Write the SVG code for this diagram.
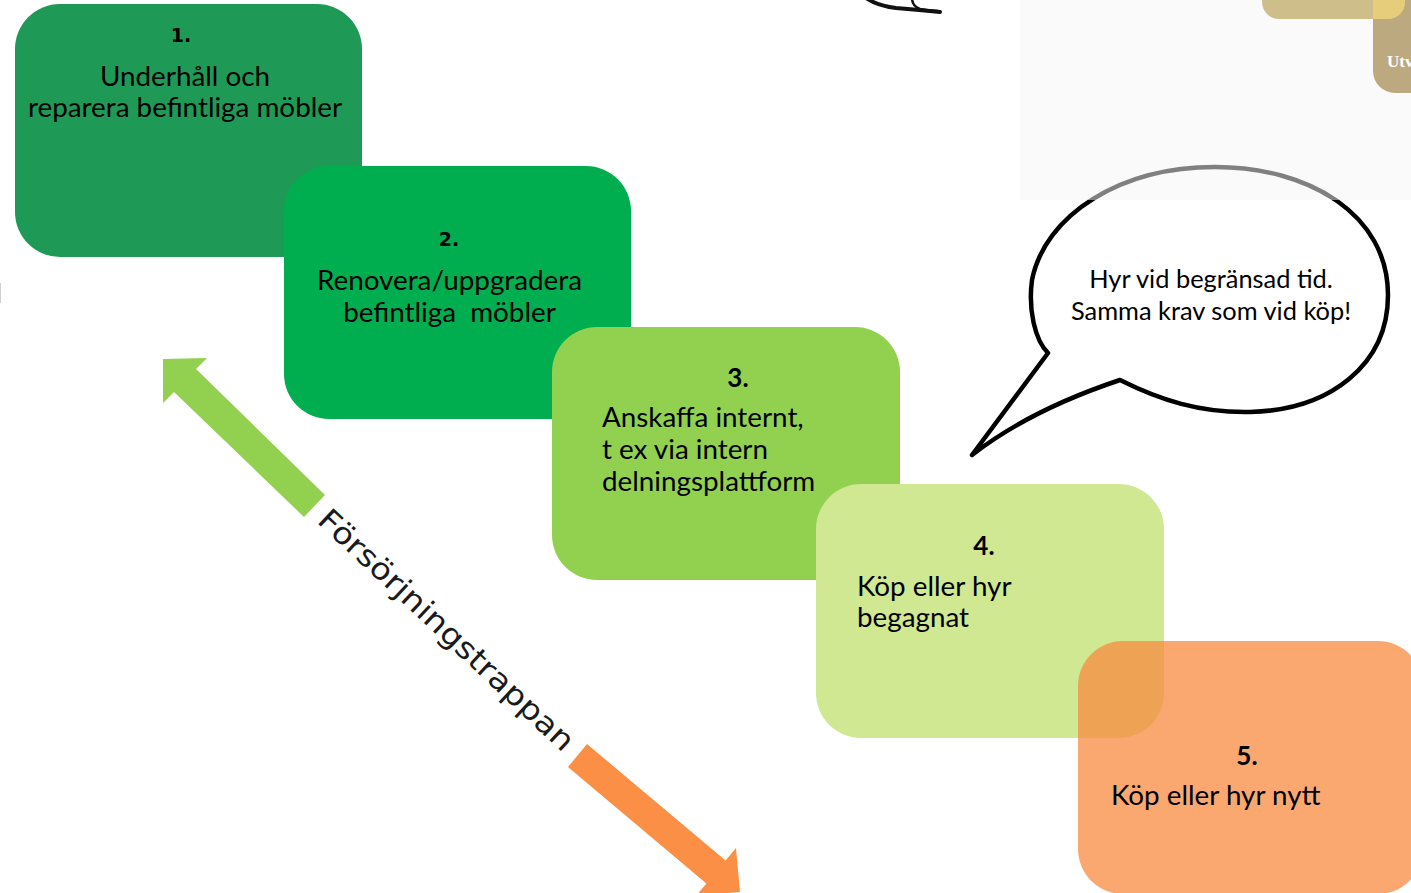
<svg xmlns="http://www.w3.org/2000/svg" width="1411" height="893" viewBox="0 0 1411 893">
<style>
.lbl{font-family:Lato,"Open Sans","Liberation Sans",sans-serif;font-size:27.8px;fill:#000}
.num{font-family:"DejaVu Sans","Liberation Sans",sans-serif;font-weight:bold;font-size:19px;fill:#000}
.num2{font-family:Lato,"Liberation Sans",sans-serif;font-weight:bold;font-size:26px;fill:#000}
.bub{font-family:Lato,"Open Sans","Liberation Sans",sans-serif;font-size:25.4px;fill:#000}
.ax{font-family:"DejaVu Sans","Liberation Sans",sans-serif;font-size:30px;fill:#1a1a1a}
</style>
<defs>
<clipPath id="topclip"><rect x="1020" y="0" width="391" height="200"/></clipPath>
<path id="bubblePath" d="M1048 353 L972 455 Q1030 410 1120 380 C1160 400 1200 413 1250 412 C1330 410 1388 365 1388 295 C1388 215 1310 167 1215 167 C1120 167 1045 215 1032 280 C1028 310 1035 340 1048 353 Z"/>
</defs>
<rect width="1411" height="893" fill="#fff"/>

<!-- scribble at top -->
<g id="scribble" fill="none" stroke="#111" stroke-linecap="round">
<path d="M866 -2 Q878 6 896 8 Q920 10 940 12" stroke-width="4"/>
<path d="M912 -2 Q912 6 920 9 Q930 11 938 11" stroke-width="2.5"/>
</g>
<line x1="0.5" y1="283" x2="0.5" y2="303" stroke="#d0d0d0" stroke-width="1"/>

<!-- speech bubble -->
<g id="bubble">
<use href="#bubblePath" fill="#fff" stroke="#000" stroke-width="4.5" stroke-linejoin="round"/>
</g>

<!-- screenshot fragment top right -->
<g id="corner">
<rect x="1020" y="0" width="391" height="200" fill="#fafafa"/>
<use href="#bubblePath" fill="none" stroke="#808080" stroke-width="4.5" clip-path="url(#topclip)"/>
<rect x="1373" y="-30" width="80" height="123" rx="22" fill="#bda97f"/>
<rect x="1262" y="-40" width="143" height="59" rx="17" fill="#cebf8a"/>
<path d="M1373 0 H1405 V2 A17 17 0 0 1 1388 19 H1373 Z" fill="#e6cd7b"/>
<text x="1387" y="67" font-family="'Liberation Serif',serif" font-weight="bold" font-size="17" fill="#fff">Utv</text>
</g>

<g id="bubble-text">
<text class="bub" x="1211" y="288" text-anchor="middle">Hyr vid begränsad tid.</text>
<text class="bub" x="1211" y="320" text-anchor="middle">Samma krav som vid köp!</text>
</g>

<!-- steps -->
<g id="step1">
<rect x="15" y="4" width="347" height="253" rx="45" fill="#1f9a56"/>
<text class="num" x="181" y="42" text-anchor="middle">1.</text>
<text class="lbl" x="185" y="86" text-anchor="middle">Underhåll och</text>
<text class="lbl" x="185" y="117" text-anchor="middle">reparera befintliga möbler</text>
</g>
<g id="step2">
<rect x="284" y="166" width="347" height="253" rx="45" fill="#00ae4f"/>
<text class="num" x="449" y="246" text-anchor="middle">2.</text>
<text class="lbl" x="449.5" y="290" text-anchor="middle">Renovera/uppgradera</text>
<text class="lbl" x="449.5" y="322" text-anchor="middle" xml:space="preserve">befintliga  möbler</text>
</g>
<g id="step3">
<rect x="552" y="327" width="348" height="253" rx="45" fill="#92d050"/>
<text class="num2" x="738" y="387" text-anchor="middle">3.</text>
<text class="lbl" x="602" y="427">Anskaffa internt,</text>
<text class="lbl" x="602" y="459">t ex via intern</text>
<text class="lbl" x="602" y="491">delningsplattform</text>
</g>
<g id="step4">
<rect x="816" y="484" width="348" height="254" rx="45" fill="#cfe891"/>
<text class="num2" x="984" y="555" text-anchor="middle">4.</text>
<text class="lbl" x="857" y="596">Köp eller hyr</text>
<text class="lbl" x="857" y="627">begagnat</text>
</g>
<g id="step5">
<rect x="1078" y="641" width="345" height="253" rx="45" fill="#f88b40" fill-opacity="0.75"/>
<text class="num2" x="1247" y="765" text-anchor="middle">5.</text>
<text class="lbl" x="1111" y="805">Köp eller hyr nytt</text>
</g>

<!-- axis arrows -->
<g id="connectors">
<polygon points="325,495 196,369 207,358 163,359 163,403 174,392 304,517" fill="#92d050"/>
<polygon points="587,744 725.6,860.5 736,848 740,892 696,896 706.4,883.5 568,767" fill="#fb8f45"/>
</g>
<g id="axis-label">
<text class="ax" x="0" y="0" transform="translate(316 522) rotate(43.1)" textLength="338" lengthAdjust="spacingAndGlyphs">Försörjningstrappan</text>
</g>
</svg>
